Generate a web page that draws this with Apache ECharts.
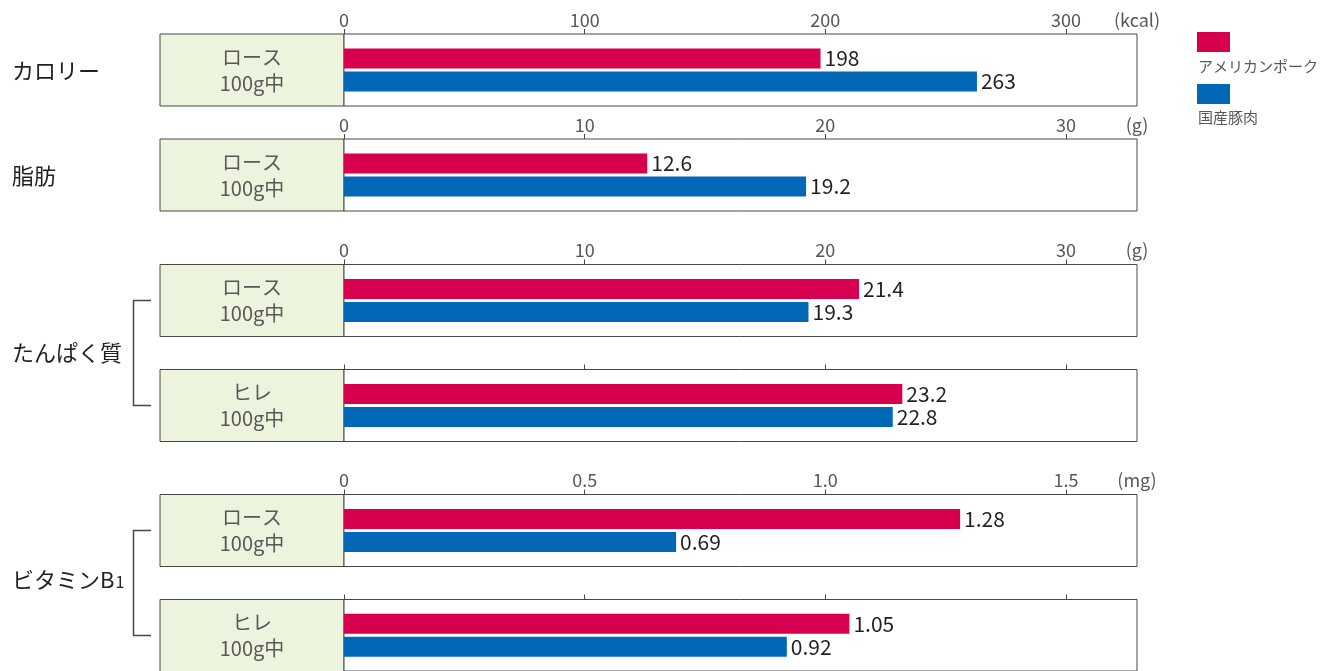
<!DOCTYPE html>
<html>
<head>
<meta charset="utf-8">
<script src="https://cdn.jsdelivr.net/npm/echarts@6/dist/echarts.min.js"></script>
<style>
html,body{margin:0;padding:0;background:#fff;}
#chart{width:1335px;height:671px;}
</style>
</head>
<body>
<div id="chart"></div>
<script>
// ---- data ----
const seriesNames = ['アメリカンポーク', '国産豚肉'];
const nutrientTitles = ['カロリー', '脂肪', 'たんぱく質', 'ビタミンB1'];
const panelLabels = ['ロース\n100g中', 'ロース\n100g中', 'ロース\n100g中', 'ヒレ\n100g中', 'ロース\n100g中', 'ヒレ\n100g中'];
const americanPork = [198, 12.6, 21.4, 23.2, 1.28, 1.05];
const domesticPork = [263, 19.2, 19.3, 22.8, 0.69, 0.92];
const kcalTicks = [0, 100, 200, 300];
const kcalTickLabels = ['0', '100', '200', '300'];
const gramTicks = [0, 10, 20, 30];
const gramTickLabels = ['0', '10', '20', '30'];
const mgTicks = [0, 0.5, 1.0, 1.5];
const mgTickLabels = ['0', '0.5', '1.0', '1.5'];
const units = ['(kcal)', '(g)', '(mg)'];

// ---- layout / style ----
const axes = [
  { ticks: kcalTicks, labels: kcalTickLabels, unit: units[0], max: 329.5 },
  { ticks: gramTicks, labels: gramTickLabels, unit: units[1], max: 32.95 },
  { ticks: mgTicks, labels: mgTickLabels, unit: units[2], max: 1.6475 }
];
const panelAxis = [0, 1, 1, 1, 2, 2];
const panelShowLabels = [true, true, true, false, true, false];
const panelTops = [34, 139, 264.5, 369.5, 494.5, 599.5];
const panelH = 72;
const plotLeft = 344, plotRight = 1137, boxLeft = 160;
const RED = '#d6004f', BLUE = '#0068b7';
const FONT = '"Noto Sans CJK JP", "Noto Sans", sans-serif';
const TXT = '#231f20', GRAY = '#595757', LINE = '#4a4646';

const grids = [], xAxes = [], yAxes = [], series = [], graphics = [];
panelTops.forEach((top, i) => {
  const ax = axes[panelAxis[i]];
  grids.push({ left: plotLeft, width: plotRight - plotLeft, top: top, height: panelH,
    show: true, borderColor: LINE, borderWidth: 1, backgroundColor: '#fff' });
  xAxes.push({
    gridIndex: i, type: 'value', position: 'top', min: 0, max: ax.max,
    axisLine: { show: false }, splitLine: { show: false },
    axisTick: { show: true, length: 5, lineStyle: { color: LINE, width: 1 }, customValues: ax.ticks },
    axisLabel: {
      show: panelShowLabels[i], customValues: ax.ticks.concat([ax.max]), showMaxLabel: true,
      margin: 5, fontSize: 18, color: GRAY, fontFamily: FONT,
      formatter: v => { const k = ax.ticks.indexOf(v); return k >= 0 ? ax.labels[k] : (v === ax.max ? ax.unit : ''); }
    }
  });
  yAxes.push({
    gridIndex: i, type: 'category', data: [panelLabels[i]],
    axisLine: { show: false }, axisTick: { show: false }, splitLine: { show: false },
    axisLabel: { margin: (plotLeft - boxLeft) / 2, align: 'center', fontSize: 20, lineHeight: 26,
      color: GRAY, fontFamily: FONT }
  });
  [americanPork, domesticPork].forEach((arr, s) => {
    series.push({
      type: 'bar', name: seriesNames[s], xAxisIndex: i, yAxisIndex: i,
      data: [arr[i]], barWidth: 20, barGap: '15%',
      itemStyle: { color: s === 0 ? RED : BLUE },
      label: { show: true, position: 'right', distance: 4, fontSize: 21, color: TXT, fontFamily: FONT,
        formatter: p => String(arr[i]) },
      silent: true, animation: false
    });
  });
  graphics.push({ type: 'rect', z: -1, shape: { x: boxLeft, y: top, width: plotLeft - boxLeft, height: panelH },
    style: { fill: '#edf4de', stroke: LINE, lineWidth: 1 } });
});

const center = i => panelTops[i] + panelH / 2;
const titleY = [center(0) + 1, center(1) + 1, (center(2) + center(3)) / 2, (center(4) + center(5)) / 2];
nutrientTitles.forEach((t, k) => {
  if (k === 3) {
    graphics.push({ type: 'text', left: 12, top: titleY[k] - 14, style: {
      text: '{a|ビタミンB}{b|1}', font: '22px ' + FONT, fill: TXT,
      rich: { a: { fontSize: 22, fontFamily: FONT, fill: TXT, verticalAlign: 'bottom' },
              b: { fontSize: 16, fontFamily: FONT, fill: TXT, verticalAlign: 'bottom', padding: [0, 0, 1, 1] } } } });
  } else {
    graphics.push({ type: 'text', x: 12, y: titleY[k], style: { text: t, font: '22px ' + FONT, fill: TXT, verticalAlign: 'middle' } });
  }
});
// brackets
[[2, 3], [4, 5]].forEach(([a, b]) => {
  graphics.push({ type: 'polyline', shape: { points: [[151, center(a)], [133.5, center(a)], [133.5, center(b)], [151, center(b)]] },
    style: { stroke: LINE, lineWidth: 1.5, fill: null } });
});
// legend
graphics.push({ type: 'rect', shape: { x: 1197, y: 32, width: 33, height: 20 }, style: { fill: RED } });
graphics.push({ type: 'text', x: 1198, y: 66, style: { text: seriesNames[0], font: '15px ' + FONT, fill: GRAY, verticalAlign: 'middle' } });
graphics.push({ type: 'rect', shape: { x: 1197, y: 84, width: 33, height: 20 }, style: { fill: BLUE } });
graphics.push({ type: 'text', x: 1198, y: 117, style: { text: seriesNames[1], font: '15px ' + FONT, fill: GRAY, verticalAlign: 'middle' } });

const chart = echarts.init(document.getElementById('chart'), null, { renderer: 'canvas' });
chart.setOption({
  animation: false,
  backgroundColor: '#fff',
  textStyle: { fontFamily: FONT },
  grid: grids, xAxis: xAxes, yAxis: yAxes, series: series,
  graphic: graphics
});
</script>
</body>
</html>
